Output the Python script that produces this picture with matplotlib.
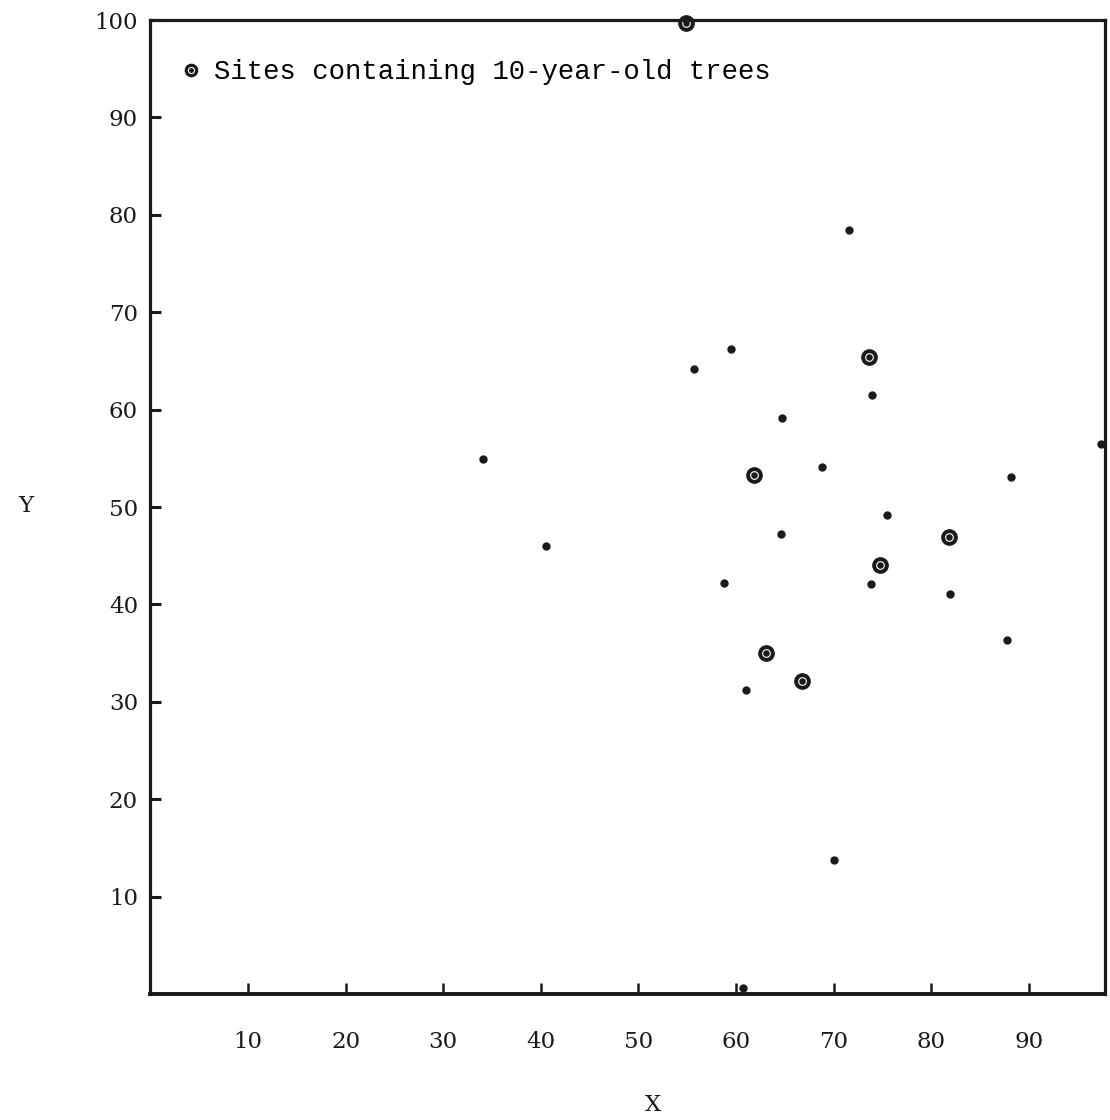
import numpy as np
import matplotlib.pyplot as plt

# all sampled sites
site_x = [34.1, 40.5, 55.7, 59.5, 58.8, 64.7, 64.6, 61.0, 68.8, 71.6,
          73.9, 73.8, 75.5, 81.9, 88.2, 87.8, 70.0, 97.4, 60.7]
site_y = [54.9, 46.0, 64.2, 66.2, 42.2, 59.1, 47.2, 31.2, 54.1, 78.4,
          61.5, 42.1, 49.2, 41.1, 53.1, 36.3, 13.8, 56.5, 0.6]

# sites containing 10-year-old trees
old_x = [54.9, 73.6, 61.8, 81.8, 74.7, 63.1, 66.8]
old_y = [99.7, 65.4, 53.3, 46.9, 44.0, 35.0, 32.1]

xticks = [10, 20, 30, 40, 50, 60, 70, 80, 90]
yticks = [10, 20, 30, 40, 50, 60, 70, 80, 90, 100]

ink = '#1a1a1a'

fig = plt.figure(figsize=(11.1, 11.2), dpi=100)
ax = fig.add_axes([0.1355, 0.1125, 0.86, 0.8696])

ax.plot(site_x, site_y, 'o', color=ink, markersize=5, linestyle='none', clip_on=False)
big = ax.plot(old_x, old_y, 'o', color=ink, markersize=11, linestyle='none', clip_on=False, zorder=3)[0]
ring = ax.plot(old_x, old_y, 'o', markerfacecolor='none', markeredgecolor='white',
               markeredgewidth=0.8, markersize=5.5, linestyle='none', clip_on=False, zorder=4)[0]

ax.set_xlim(0, 97.8)
ax.set_ylim(0, 100)
ax.set_xticks(xticks)
ax.set_yticks(yticks)
ax.set_xticklabels([str(v) for v in xticks])
ax.set_yticklabels([str(v) for v in yticks])

for s in ax.spines.values():
    s.set_linewidth(2.3)
    s.set_color(ink)
    s.set_zorder(5)
ax.spines['bottom'].set_linewidth(2.8)

ax.tick_params(axis='x', direction='in', length=8, width=1.8, pad=27, colors=ink,
               labelsize=16.5, top=False)
ax.tick_params(axis='y', direction='in', length=8, width=2.2, pad=9, colors=ink,
               labelsize=16.5, right=False)
for lab in ax.get_xticklabels() + ax.get_yticklabels():
    lab.set_family('DejaVu Serif')

fig.text(0.016, 0.548, 'Y', fontsize=16.5, family='DejaVu Serif', color=ink, va='center')
fig.text(0.588, 0.013, 'X', fontsize=16.5, family='DejaVu Serif', color=ink, ha='center', va='center')

ax.legend([(big, ring)], ['Sites containing 10-year-old trees'], loc='center left',
          bbox_to_anchor=(0.031, 0.9466), frameon=False, handlelength=0.8,
          handletextpad=0.45, borderpad=0, borderaxespad=0, markerscale=0.8,
          prop={'family': 'Liberation Mono', 'size': 19.6})

fig.savefig('out.png', dpi=100, facecolor='white')
